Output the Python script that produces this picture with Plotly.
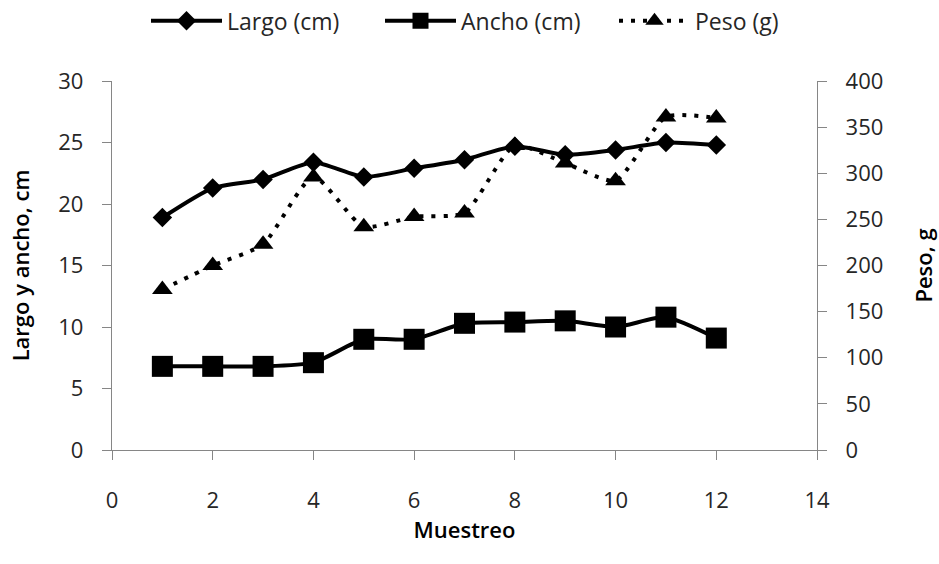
import plotly.graph_objects as go

muestreo = [1, 2, 3, 4, 5, 6, 7, 8, 9, 10, 11, 12]
largo = [18.9, 21.3, 22.0, 23.4, 22.2, 22.9, 23.6, 24.7, 24.0, 24.4, 25.0, 24.8]
ancho = [6.8, 6.8, 6.8, 7.1, 9.0, 9.0, 10.3, 10.4, 10.5, 10.0, 10.8, 9.1]
peso = [174, 200, 223, 296, 242, 253, 257, 330, 311, 292, 361, 360]

FONT = "Open Sans"
AX = "#868686"
TXT = "#262626"

fig = go.Figure()
fig.add_trace(go.Scatter(
    x=muestreo, y=largo, name="Largo (cm)", mode="lines+markers",
    line=dict(color="black", width=4, shape="spline", smoothing=0.6),
    marker=dict(symbol="diamond", size=15, color="black"),
))
fig.add_trace(go.Scatter(
    x=muestreo, y=ancho, name="Ancho (cm)", mode="lines+markers",
    line=dict(color="black", width=4, shape="spline", smoothing=0.6),
    marker=dict(symbol="square", size=21, color="black"),
))
fig.add_trace(go.Scatter(
    x=muestreo, y=peso, name="Peso (g)", mode="lines+markers", yaxis="y2",
    line=dict(color="black", width=4, dash="4px,8px", shape="spline", smoothing=0.6),
    marker=dict(symbol="triangle-up", size=18, color="black"),
))

axis_common = dict(showline=True, linecolor=AX, linewidth=1.3, ticks="outside",
                   tickcolor=AX, ticklen=9, tickwidth=1.3, showgrid=False,
                   zeroline=False, automargin=False, tickfont=dict(size=22, color=TXT))
title_font = dict(size=22, color="black", weight=600)

fig.update_layout(
    width=939, height=564,
    margin=dict(l=112, r=122, t=81, b=114),
    plot_bgcolor="white", paper_bgcolor="white",
    font=dict(family=FONT, size=22, color=TXT),
    showlegend=True,
    legend=dict(orientation="h", x=146 / 939, xanchor="left", xref="container",
                y=0.963, yanchor="middle", yref="container",
                font=dict(size=23, color=TXT), itemwidth=71,
                entrywidth=148, entrywidthmode="pixels", tracegroupgap=0),
    xaxis=dict(range=[0, 14], dtick=2, ticklabelstandoff=21,
               title=dict(text="Muestreo", font=title_font, standoff=4),
               **axis_common),
    yaxis=dict(range=[0, 30], dtick=5, ticklabelstandoff=14,
               title=dict(text="Largo y ancho, cm", font=title_font, standoff=22),
               **axis_common),
    yaxis2=dict(range=[0, 400], dtick=50, overlaying="y", side="right", ticklabelstandoff=14,
                title=dict(text="Peso, g", font=title_font, standoff=34),
                **axis_common),
)
fig.write_html("out.html")
